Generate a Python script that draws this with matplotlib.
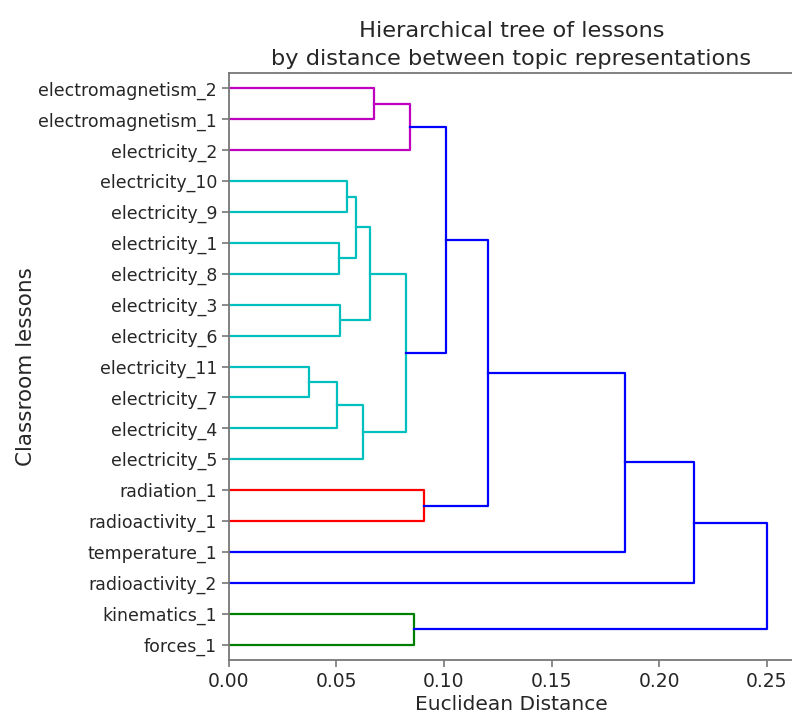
import matplotlib.pyplot as plt

# leaves, top to bottom as they appear in the tree
lessons = [
    "electromagnetism_2", "electromagnetism_1", "electricity_2",
    "electricity_10", "electricity_9", "electricity_1", "electricity_8",
    "electricity_3", "electricity_6", "electricity_11", "electricity_7",
    "electricity_4", "electricity_5", "radiation_1", "radioactivity_1",
    "temperature_1", "radioactivity_2", "kinematics_1", "forces_1",
]

# merges: cluster ids 0..18 are leaves, each merge creates id 19, 20, ...
merge_a = [0, 19, 3, 5, 21, 7, 23, 9, 26, 27, 25, 20, 13, 30, 32, 33, 17, 34]
merge_b = [1, 2, 4, 6, 22, 8, 24, 10, 11, 12, 28, 29, 14, 31, 15, 16, 18, 35]
merge_dist = [0.0673, 0.0841, 0.0547, 0.0513, 0.0589, 0.0516, 0.0655,
              0.0373, 0.0501, 0.0624, 0.0823, 0.1009, 0.0908, 0.1207,
              0.1841, 0.2163, 0.0862, 0.2504]
merge_color = ["#bf00bf", "#bf00bf", "#00bfbf", "#00bfbf", "#00bfbf",
               "#00bfbf", "#00bfbf", "#00bfbf", "#00bfbf", "#00bfbf",
               "#00bfbf", "#0000ff", "#ff0000", "#0000ff", "#0000ff",
               "#0000ff", "#008000", "#0000ff"]

x_ticks = [0.0, 0.05, 0.10, 0.15, 0.20, 0.25]

n = len(lessons)
pos = {i: 10 * (n - 1 - i) + 5 for i in range(n)}
height = {i: 0.0 for i in range(n)}

fig = plt.figure(figsize=(7.92, 7.13), dpi=100)
ax = fig.add_axes([0.289, 0.0743, 0.7134, 0.8233])

for k, (a, b, d, c) in enumerate(zip(merge_a, merge_b, merge_dist, merge_color)):
    ax.plot([height[a], d, d, height[b]], [pos[a], pos[a], pos[b], pos[b]],
            color=c, lw=1.6)
    new_id = n + k
    pos[new_id] = (pos[a] + pos[b]) / 2
    height[new_id] = d

ax.set_ylim(0, 10 * n)
ax.set_xlim(0, 0.2627)
ax.set_yticks([pos[i] for i in range(n)])
ax.set_yticklabels(lessons)
ax.set_xticks(x_ticks)
ax.set_xticklabels([f"{t:.2f}" for t in x_ticks])
ax.tick_params(colors="#262626", length=5, width=1.2)
ax.tick_params(axis="y", labelsize=12.5)
ax.tick_params(axis="x", labelsize=13.5)
ax.tick_params(axis="both", color="#777777")
for side in ["top", "left", "bottom"]:
    ax.spines[side].set_color("#777777")
    ax.spines[side].set_linewidth(1.3)
ax.spines["right"].set_visible(False)

ax.set_xlabel("Euclidean Distance", fontsize=14.5, color="#262626", labelpad=3)
ax.set_ylabel("Classroom lessons", fontsize=15.5, color="#262626", labelpad=2)
ax.set_title("Hierarchical tree of lessons\nby distance between topic representations",
             fontsize=16.2, color="#262626", linespacing=1.45)

fig.savefig("out.png", dpi=100)
